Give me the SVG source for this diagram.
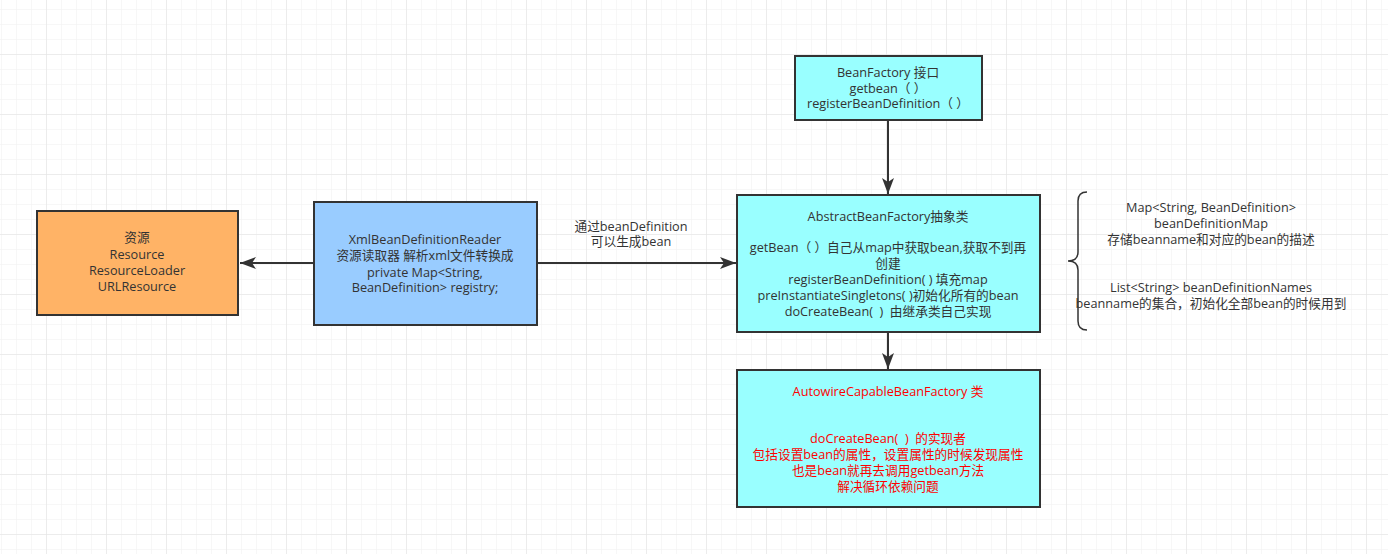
<svg xmlns="http://www.w3.org/2000/svg" width="1388" height="554" viewBox="0 0 1388 554">
<defs>
<pattern id="minor" width="15" height="15" patternUnits="userSpaceOnUse" x="1" y="9">
<path d="M0 0H15M0 0V15" fill="none" stroke="#efefef" stroke-width="1"/>
</pattern>
<pattern id="major" width="60" height="60" patternUnits="userSpaceOnUse" x="46" y="54">
<path d="M0 0H60M0 0V60" fill="none" stroke="#e2e2e2" stroke-width="1"/>
</pattern>
<marker id="arrh" viewBox="0 0 16 12" refX="16" refY="6" markerWidth="16" markerHeight="12" markerUnits="userSpaceOnUse" orient="auto">
<path d="M0 0L16 6L0 12L4 6Z" fill="#333"/>
</marker>
</defs>
<style>
.box{stroke:#333;stroke-width:2}
.t{font-family:"Open Sans","Noto Sans CJK SC",sans-serif;font-size:12.7px;fill:#333;text-anchor:middle;white-space:pre}
.r{fill:#ff0000}
.conn{stroke:#333;stroke-width:2;fill:none}
</style>
<rect width="1388" height="554" fill="#fff"/>
<rect width="1388" height="554" fill="url(#minor)"/>
<rect width="1388" height="554" fill="url(#major)"/>

<g id="connectors">
<line class="conn" x1="314" y1="263" x2="240" y2="263" marker-end="url(#arrh)"/>
<line class="conn" x1="537" y1="263" x2="736" y2="263" marker-end="url(#arrh)"/>
<line class="conn" x1="888" y1="121" x2="888" y2="194" marker-end="url(#arrh)"/>
<line class="conn" x1="888" y1="333" x2="888" y2="369" marker-end="url(#arrh)"/>
<text class="t" x="631" y="231">通过beanDefinition</text>
<text class="t" x="631" y="246">可以生成bean</text>
</g>

<g id="resource">
<rect class="box" x="37" y="211" width="201" height="104" fill="#ffb366"/>
<text class="t" x="137" y="242">资源</text>
<text class="t" x="137" y="259">Resource</text>
<text class="t" x="137" y="275">ResourceLoader</text>
<text class="t" x="137" y="291">URLResource</text>
</g>

<g id="reader">
<rect class="box" x="314" y="202" width="223" height="123" fill="#99ccff"/>
<text class="t" x="425" y="244">XmlBeanDefinitionReader</text>
<text class="t" x="425" y="260">资源读取器 解析xml文件转换成</text>
<text class="t" x="425" y="277">private Map&lt;String,</text>
<text class="t" x="425" y="292">BeanDefinition&gt; registry;</text>
</g>

<g id="beanfactory">
<rect class="box" x="795" y="56" width="187" height="64" fill="#99ffff"/>
<text class="t" x="888" y="77">BeanFactory 接口</text>
<text class="t" x="888" y="93">getbean（ ）</text>
<text class="t" x="888" y="108">registerBeanDefinition（ ）</text>
</g>

<g id="abstract">
<rect class="box" x="737" y="195" width="303" height="137" fill="#99ffff"/>
<text class="t" x="888" y="221">AbstractBeanFactory抽象类</text>
<text class="t" x="888" y="252">getBean（ ）自己从map中获取bean,获取不到再</text>
<text class="t" x="888" y="268">创建</text>
<text class="t" x="888" y="284">registerBeanDefinition( ) 填充map</text>
<text class="t" x="888" y="300">preInstantiateSingletons( )初始化所有的bean</text>
<text class="t" x="888" y="316">doCreateBean(  )  由继承类自己实现</text>
</g>

<g id="autowire">
<rect class="box" x="737" y="370" width="303" height="137" fill="#99ffff"/>
<text class="t r" x="888" y="396">AutowireCapableBeanFactory 类</text>
<text class="t r" x="888" y="443">doCreateBean(  )  的实现者</text>
<text class="t r" x="888" y="459">包括设置bean的属性，设置属性的时候发现属性</text>
<text class="t r" x="888" y="475">也是bean就再去调用getbean方法</text>
<text class="t r" x="888" y="491">解决循环依赖问题</text>
</g>

<g id="note">
<path d="M1087 192Q1078 192 1078 201V252Q1078 261 1068 261Q1078 261 1078 270V321Q1078 330 1087 330" fill="none" stroke="#333" stroke-width="1.5"/>
<text class="t" x="1211" y="212">Map&lt;String, BeanDefinition&gt;</text>
<text class="t" x="1211" y="228">beanDefinitionMap</text>
<text class="t" x="1211" y="244">存储beanname和对应的bean的描述</text>
<text class="t" x="1211" y="292">List&lt;String&gt; beanDefinitionNames</text>
<text class="t" x="1211" y="308">beanname的集合，初始化全部bean的时候用到</text>
</g>
</svg>
